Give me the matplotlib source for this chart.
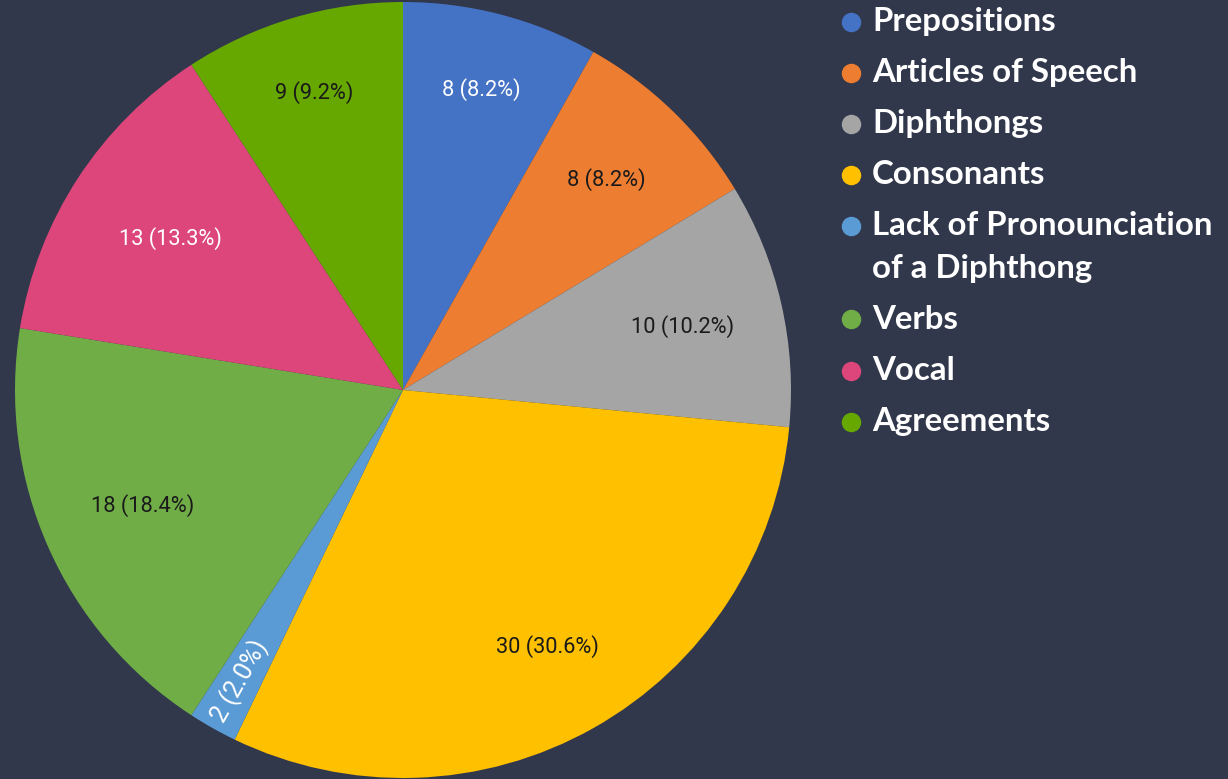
import numpy as np
import matplotlib.pyplot as plt
from matplotlib.lines import Line2D

categories = ["Prepositions", "Articles of Speech", "Diphthongs", "Consonants",
              "Lack of Pronounciation\nof a Diphthong", "Verbs", "Vocal", "Agreements"]
values = [8, 8, 10, 30, 2, 18, 13, 9]
colors = ["#4472C4", "#ED7D31", "#A5A5A5", "#FFC000", "#5B9BD5", "#70AD47", "#DD467A", "#66A800"]
text_colors = ["white", "#1a1a1a", "#1a1a1a", "#1a1a1a", "white", "#1a1a1a", "white", "#1a1a1a"]
# where each slice label sits, as a fraction of the radius
label_r = [0.80, 0.755, 0.74, 0.76, 0.86, 0.735, 0.715, 0.80]

bg = "#31384B"
W, H = 1228, 779
fig = plt.figure(figsize=(W / 100, H / 100), dpi=100, facecolor=bg)

# pie axes: circle spans x 15..791, y 2..778 px
ax = fig.add_axes([15 / W, 1 / H, 776 / W, 776 / H])
ax.set_facecolor(bg)
wedges, _ = ax.pie(values, colors=colors, startangle=90, counterclock=False,
                   radius=1.0, wedgeprops=dict(linewidth=0))
ax.set_xlim(-1, 1)
ax.set_ylim(-1, 1)
ax.set_aspect("equal")
ax.axis("off")

total = sum(values)
for w, v, tc, r in zip(wedges, values, text_colors, label_r):
    mid = np.deg2rad((w.theta1 + w.theta2) / 2)
    pct = 100 * v / total
    label = f"{v} ({pct:.1f}%)"
    if pct < 5:
        rot = np.rad2deg(mid) + 180
        ax.text(r * np.cos(mid), r * np.sin(mid), label, rotation=rot,
                rotation_mode="anchor", ha="center", va="center",
                color=tc, fontsize=18, family="Roboto")
    else:
        ax.text(r * np.cos(mid), r * np.sin(mid), label, ha="center", va="center",
                color=tc, fontsize=15.7, family="Roboto")

# legend drawn in figure pixels
y = 31
for name, c in zip(categories, colors):
    lines = name.split("\n")
    fig.add_artist(Line2D([851 / W], [1 - (y - 9.5) / H], marker="o", markersize=13,
                          color=c, linestyle="none", transform=fig.transFigure))
    for i, ln in enumerate(lines):
        fig.text(872 / W, 1 - y / H, ln, color="white", fontsize=23.8, family="Lato",
                 fontweight="bold", va="baseline", ha="left")
        if i < len(lines) - 1:
            y += 43
    y += 51

fig.savefig("out.png", dpi=100, facecolor=bg)
